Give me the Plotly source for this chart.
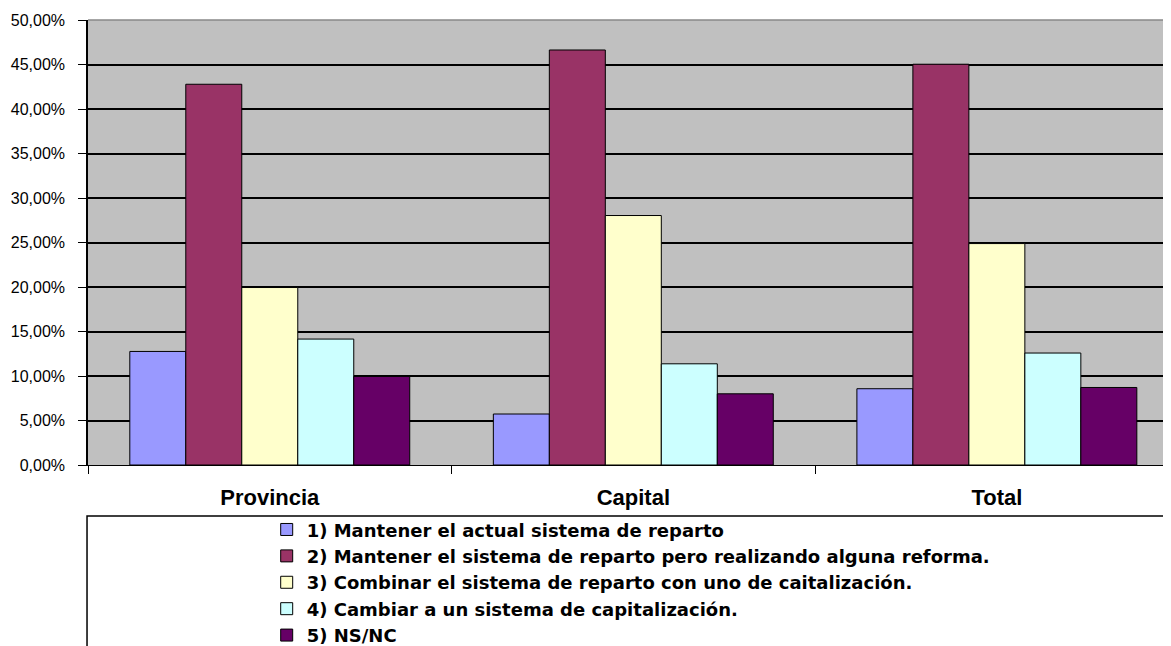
import plotly.graph_objects as go

categories = ["Provincia", "Capital", "Total"]
series_names = [
    "1) Mantener el actual sistema de reparto",
    "2) Mantener el sistema de reparto pero realizando alguna reforma.",
    "3) Combinar el sistema de reparto con uno de caitalización.",
    "4) Cambiar a un sistema de capitalización.",
    "5) NS/NC",
]
s1 = [12.76, 5.73, 8.57]
s2 = [42.78, 46.63, 45.03]
s3 = [19.94, 28.03, 24.88]
s4 = [14.15, 11.37, 12.58]
s5 = [9.95, 8.00, 8.71]
series_values = [s1, s2, s3, s4, s5]
colors = ["#9999FF", "#993366", "#FFFFCC", "#CCFFFF", "#660066"]
tick_vals = [0, 5, 10, 15, 20, 25, 30, 35, 40, 45, 50]
tick_text = ["0,00%", "5,00%", "10,00%", "15,00%", "20,00%", "25,00%",
             "30,00%", "35,00%", "40,00%", "45,00%", "50,00%"]

fig = go.Figure()
for name, vals, col in zip(series_names, series_values, colors):
    fig.add_trace(go.Bar(
        x=categories, y=vals, name=name,
        marker=dict(color=col, line=dict(color="black", width=1)),
    ))

fig.update_layout(
    width=1163, height=638,
    margin=dict(l=80, r=0, t=12, b=181, autoexpand=False),
    paper_bgcolor="white",
    plot_bgcolor="#C0C0C0",
    barmode="group",
    bargap=0.23,
    bargroupgap=0,
    font=dict(family="Liberation Sans, Arial, sans-serif", color="black"),
    xaxis=dict(
        range=[-0.5, 2.479],
        showline=True, linecolor="black", linewidth=1,
        ticks="outside", tickson="boundaries", ticklen=8, tickcolor="black",
        tickfont=dict(size=22, weight="bold"),
        ticklabelstandoff=13,
        showgrid=False,
    ),
    yaxis=dict(
        range=[0, 50],
        tickvals=tick_vals, ticktext=tick_text,
        showline=True, linecolor="black", linewidth=1.5,
        ticks="outside", ticklen=8, tickcolor="black",
        tickfont=dict(size=16),
        ticklabelstandoff=10,
        showgrid=True, gridcolor="black", gridwidth=1.5,
        zeroline=False,
    ),
    legend=dict(
        x=0.165, y=-0.104, xanchor="left", yanchor="top",
        bgcolor="rgba(0,0,0,0)", borderwidth=0,
        font=dict(family="DejaVu Sans, Liberation Sans, sans-serif", size=18, weight="bold"),
        tracegroupgap=0,
        itemwidth=30,
        itemclick=False,
    ),
    shapes=[
        dict(type="rect", xref="paper", yref="paper",
             x0=-0.0009, x1=1.05, y0=-0.1146, y1=-0.6,
             line=dict(color="black", width=1.5), fillcolor="rgba(0,0,0,0)",
             layer="below"),
        dict(type="line", xref="paper", yref="paper",
             x0=0, x1=1, y0=1, y1=1, line=dict(color="#888888", width=1.5)),
    ],
)

fig.write_html("out.html")
